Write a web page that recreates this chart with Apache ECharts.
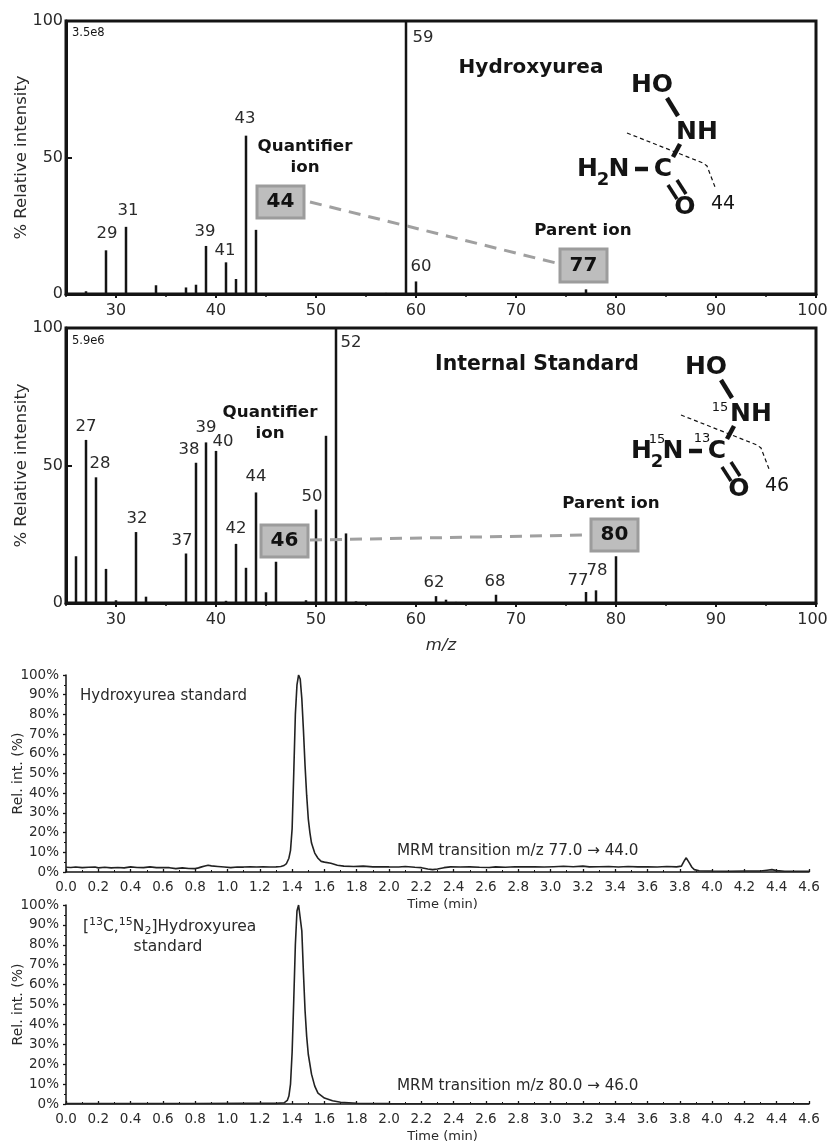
<!DOCTYPE html>
<html><head><meta charset="utf-8">
<style>html,body{margin:0;padding:0;background:#fff}#c{width:828px;height:1144px}</style>
<script src="https://cdn.jsdelivr.net/npm/echarts@6/dist/echarts.min.js"></script>
</head><body><div id="c"></div>
<script>
// ---- data ----
const hydroxyMz  = [27,29,31,34,37,38,39,41,42,43,44,57,59,60,77];
const hydroxyInt = [1,16,24.6,3.2,2.4,3.4,17.6,11.6,5.5,58,23.5,0.4,100,4.6,1.7];
const hydroxyLabelled = [29,31,39,41,43,59,60];

const standardMz  = [26,27,28,29,30,32,33,37,38,39,40,41,42,43,44,45,46,48,49,50,51,52,53,54,62,63,64,68,77,78,80];
const standardInt = [17,59.3,45.7,12.4,1,25.8,2.3,18,51,58.4,55.3,0.8,21.5,12.8,40.2,3.9,15,0.3,1,34,60.8,100,25.3,0.6,2.5,1.2,0.4,3,4,4.6,17];
const standardLabelled = [27,28,32,37,38,39,40,42,44,50,52,62,68,77,78];

const chromTimeA = [0,.03,.06,.1,.14,.18,.2,.24,.28,.32,.36,.4,.44,.48,.52,.56,.6,.64,.68,.72,.76,.8,.82,.84,.86,.88,.9,.94,.98,1.02,1.06,1.1,1.14,1.18,1.22,1.26,1.3,1.33,1.35,1.365,1.38,1.39,1.4,1.41,1.42,1.43,1.44,1.45,1.46,1.47,1.48,1.49,1.5,1.51,1.52,1.54,1.56,1.58,1.6,1.64,1.68,1.72,1.78,1.84,1.9,1.96,2,2.06,2.1,2.16,2.2,2.24,2.27,2.3,2.34,2.38,2.44,2.5,2.56,2.62,2.66,2.72,2.78,2.84,2.9,2.96,3.02,3.08,3.14,3.2,3.24,3.3,3.36,3.42,3.48,3.54,3.6,3.66,3.72,3.78,3.81,3.82,3.83,3.84,3.85,3.86,3.875,3.89,3.92,4,4.1,4.2,4.3,4.34,4.37,4.4,4.45,4.5,4.6];
const chromValueA = [2.4,2.3,2.5,2.2,2.4,2.5,2.1,2.4,2.1,2.3,2.1,2.6,2.3,2.2,2.6,2.2,2.3,2.2,1.7,2.1,1.8,1.7,2.1,2.6,3,3.4,3.1,2.8,2.5,2.2,2.5,2.5,2.7,2.5,2.7,2.5,2.6,2.8,3.3,4.3,7,11,22,50,80,95,100,98,88,72,54,39,27,20,14.7,9.6,7,5.4,5,4.4,3.4,3,2.8,3,2.6,2.7,2.6,2.5,2.8,2.4,2.2,1.5,1.2,1.5,2.2,2.6,2.5,2.6,2.4,2.3,2.6,2.4,2.7,2.6,2.7,2.5,2.7,2.9,2.7,3,2.6,2.7,2.8,2.5,2.8,2.6,2.7,2.5,2.8,2.6,3,4.5,6,7.2,6.5,4.5,2.4,1.2,.6,.5,.4,.5,.5,.9,1.2,.7,.4,.4,.4];

const chromTimeB = [0,.4,.8,1.1,1.3,1.35,1.37,1.38,1.39,1.4,1.41,1.42,1.43,1.44,1.45,1.46,1.47,1.48,1.49,1.5,1.52,1.54,1.56,1.6,1.65,1.7,1.8,2,2.4,3,3.6,4.2,4.6];
const chromValueB = [.2,.2,.25,.3,.3,.6,1.8,4,10,26,52,80,97,100,100,87,66,47,34,25,15,9,5.5,3,1.6,.9,.4,.2,.1,.1,.1,.1,.1];

const massTicks = [30,40,50,60,70,80,90,100];

// ---- label nudges (layout only, px relative to the default spot above a stem) ----
const hydroxyNudge = {29:[1,-3],31:[2,-3],39:[-1,-1],41:[-1,2],43:[-1,-3],59:[17,30],60:[5,-1]};
const standardNudge = {27:[0,0],28:[4,0],32:[1,0],37:[-4,1],38:[-7,0],39:[0,-1],40:[7,4],42:[0,-2],44:[0,-2],50:[-4,1],52:[15,28],62:[-2,0],68:[-1,0],77:[-8,2],78:[1,-6]};

const FONT = '"DejaVu Sans", sans-serif', INK = '#141414', SOFT = '#2a2a2a';
const frames = [
  {left:66,right:12,top:21,height:273},
  {left:66,right:12,top:328,height:275},
  {left:66,right:19,top:675,height:197},
  {left:66,right:19,top:905,height:199}
];

function stems(mz, vals, labelled, nudge, gridAxis, width){
  return {type:'bar', xAxisIndex:gridAxis, barWidth:width, silent:true, z:3,
    itemStyle:{color:INK},
    data: mz.map((m,i)=>{
      const it = {value:[m,vals[i]]};
      if(labelled.includes(m)) it.label = {show:true, position:'top', distance:5, formatter:String(m), offset:nudge[m]||[0,0], fontFamily:FONT, fontSize:16.5, color:SOFT};
      return it;
    })};
}
function massX(grid){return [
  {type:'value',gridIndex:grid,min:25,max:100,position:'bottom',splitLine:{show:false},
   axisLine:{lineStyle:{color:INK,width:3}},axisTick:{show:true,customValues:massTicks,length:4,lineStyle:{color:INK,width:2}},
   axisLabel:{customValues:massTicks,margin:9,fontFamily:FONT,fontSize:16,color:SOFT,hideOverlap:false,
     formatter:v=>v===100?'{end|100}':String(v),rich:{end:{fontFamily:FONT,fontSize:16,color:SOFT,padding:[0,7,0,0]}}},
   ...(grid===1?{name:'m/z',nameLocation:'middle',nameGap:34,nameTextStyle:{fontFamily:FONT,fontSize:16.5,fontStyle:'italic',color:SOFT}}:{})},
  {type:'value',gridIndex:grid,min:25,max:100,interval:5,position:'bottom',splitLine:{show:false},axisLine:{show:false},axisLabel:{show:false},
   axisTick:{show:true,length:3,lineStyle:{color:INK,width:1.5}}}
];}
function massY(grid){return {type:'value',gridIndex:grid,min:0,max:100,interval:50,splitLine:{show:false},
  name:'% Relative intensity',nameLocation:'middle',nameGap:36,nameMoveOverlap:false,nameTextStyle:{fontFamily:FONT,fontSize:16.5,color:SOFT},
  axisLine:{show:true,lineStyle:{color:INK,width:3}},axisTick:{show:true,inside:true,length:6,lineStyle:{color:INK,width:2}},
  axisLabel:{margin:3,fontFamily:FONT,fontSize:16,color:SOFT}};}
function timeX(grid){return {type:'value',gridIndex:grid,min:0,max:4.6,interval:.2,splitLine:{show:false},
  name:'Time (min)',nameLocation:'middle',nameGap:26,nameTextStyle:{fontFamily:FONT,fontSize:13,color:SOFT,padding:[0,0,0,10]},
  axisLine:{lineStyle:{color:INK,width:1.5}},axisTick:{show:true,inside:true,length:3,lineStyle:{color:INK,width:1.3}},
  minorTick:{show:true,splitNumber:2,length:2,lineStyle:{color:INK,width:1}},
  axisLabel:{margin:8,fontFamily:FONT,fontSize:13.5,color:SOFT,hideOverlap:false,formatter:v=>v.toFixed(1)}};}
function timeY(grid){return {type:'value',gridIndex:grid,min:0,max:100,interval:10,splitLine:{show:false},
  name:'Rel. int. (%)',nameLocation:'middle',nameGap:41,nameMoveOverlap:false,nameTextStyle:{fontFamily:FONT,fontSize:14,color:SOFT},
  axisLine:{show:true,lineStyle:{color:INK,width:1.5}},axisTick:{show:true,length:3,lineStyle:{color:INK,width:1.3}},
  minorTick:{show:true,splitNumber:2,length:2,lineStyle:{color:INK,width:1}},
  axisLabel:{margin:7,fontFamily:FONT,fontSize:13.5,color:SOFT,formatter:'{value}%'}};}

// ---- annotations ----
const g = [];
function txt(x,y,text,size,o){o=o||{};g.push({type:'text',z:20,x,y,style:{text,fill:o.fill||INK,align:o.align||'center',verticalAlign:'middle',font:(o.bold?'bold ':'')+size+'px '+FONT,rich:o.rich}});}
function seg(pts,width,dash,color){g.push({type:'polyline',z:19,shape:{points:pts},style:{stroke:color||INK,lineWidth:width,fill:null,lineDash:dash||null}});}
function box(x,y,w,h,label){
  g.push({type:'rect',z:21,shape:{x,y,width:w,height:h},style:{fill:'#bdbdbd',stroke:'#9c9c9c',lineWidth:3}});
  g.push({type:'text',z:22,x:x+w/2,y:y+h/2,style:{text:label,fill:'#111',align:'center',verticalAlign:'middle',font:'bold 20px '+FONT}});
}
function molecule(dx,dy,cut,iso){
  txt(652+dx,85+dy,'HO',25,{bold:true});
  seg([[667+dx,98+dy],[678+dx,116+dy]],4.5);
  txt(697+dx,132+dy,'NH',25,{bold:true});
  seg([[680+dx,144+dy],[673+dx,157+dy]],4.5);
  txt(663+dx,169+dy,'C',25,{bold:true});
  txt(577+dx,169+dy,'H',25,{bold:true,align:'left'});
  txt(603+dx,180+dy,'2',18,{bold:true});
  txt(619+dx,169+dy,'N',25,{bold:true});
  seg([[635+dx,169+dy],[648+dx,169+dy]],4.5);
  seg([[668+dx,185+dy],[677+dx,199+dy]],3.5);
  seg([[677+dx,180+dy],[686+dx,194+dy]],3.5);
  txt(685+dx,207+dy,'O',25,{bold:true});
  txt(723+dx,204+dy,cut,19);
  seg([[627+dx,133+dy],[703+dx,163+dy],[707+dx,166+dy],[715+dx,187+dy]],1.2,[4,3]);
  (iso||[]).forEach(p=>txt(p[0],p[1],p[2],13));
}
// top panel
txt(72,33,'3.5e8',11.5,{align:'left'});
txt(531,68,'Hydroxyurea',20,{bold:true});
txt(305,147,'Quantifier',16.7,{bold:true}); txt(305,168,'ion',16.7,{bold:true});
seg([[310,202],[556,263]],3,[12,8],'#a0a0a0');
box(257,186,47,32,'44');
txt(583,231,'Parent ion',16.7,{bold:true});
box(560,249,47,33,'77');
molecule(0,0,'44');
// second panel
txt(72,341,'5.9e6',11.5,{align:'left'});
txt(537,365,'Internal Standard',20.4,{bold:true});
txt(270,413,'Quantifier',16.7,{bold:true}); txt(270,434,'ion',16.7,{bold:true});
seg([[310,540],[588,535]],3,[12,8],'#a0a0a0');
box(261,525,47,32,'46');
txt(611,504,'Parent ion',16.7,{bold:true});
box(591,519,47,32,'80');
molecule(54,282,'46',[[720,408,'15'],[657,440,'15'],[702,439,'13']]);
// chromatograms
txt(80,696,'Hydroxyurea standard',15,{align:'left',fill:SOFT});
txt(397,851,'MRM transition m/z 77.0 \u2192 44.0',15.2,{align:'left',fill:SOFT});
txt(83,927,'[{s|13}C,{s|15}N{b|2}]Hydroxyurea',15.5,{align:'left',fill:SOFT,rich:{
  s:{fontSize:11,fontFamily:FONT,fill:SOFT,verticalAlign:'top',lineHeight:20},
  b:{fontSize:11,fontFamily:FONT,fill:SOFT,verticalAlign:'bottom',lineHeight:20}}});
txt(168,947,'standard',15.5,{fill:SOFT});
txt(397,1086,'MRM transition m/z 80.0 \u2192 46.0',15.2,{align:'left',fill:SOFT});

const chart = echarts.init(document.getElementById('c'),null,{renderer:'canvas'});
const pairs=(a,b)=>a.map((t,i)=>[t,b[i]]);
chart.setOption({
  animation:false, backgroundColor:'#fff',
  grid:frames.map((f,i)=>({...f,outerBoundsMode:'none',containLabel:false,show:i<2,borderColor:INK,borderWidth:3,backgroundColor:'transparent'})),
  xAxis:[...massX(0),...massX(1),timeX(2),timeX(3)],
  yAxis:[massY(0),massY(1),timeY(2),timeY(3)],
  series:[
    {...stems(hydroxyMz,hydroxyInt,hydroxyLabelled,hydroxyNudge,0,2.5),yAxisIndex:0},
    {...stems(standardMz,standardInt,standardLabelled,standardNudge,2,2.5),yAxisIndex:1},
    {type:'line',xAxisIndex:4,yAxisIndex:2,showSymbol:false,silent:true,smooth:false,lineStyle:{color:'#222',width:1.6},data:pairs(chromTimeA,chromValueA)},
    {type:'line',xAxisIndex:5,yAxisIndex:3,showSymbol:false,silent:true,smooth:false,lineStyle:{color:'#222',width:1.6},data:pairs(chromTimeB,chromValueB)}
  ],
  graphic:{elements:g}
});
</script></body></html>
